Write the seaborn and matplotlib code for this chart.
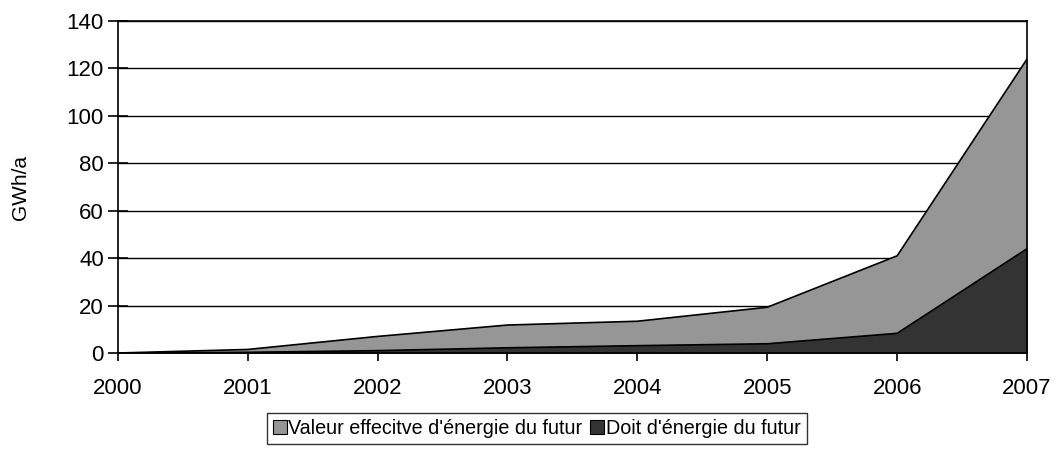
import matplotlib
matplotlib.use("Agg")
import matplotlib.pyplot as plt
import seaborn as sns
import pandas as pd
from matplotlib.patches import Patch

years = [2000, 2001, 2002, 2003, 2004, 2005, 2006, 2007]
valeur_effective = [0, 1.5, 7, 11.8, 13.4, 19.3, 41, 124]
doit = [0, 0.3, 1.0, 2.2, 3.1, 3.9, 8.3, 44]
labels = ["Valeur effecitve d'énergie du futur", "Doit d'énergie du futur"]

df = pd.DataFrame({"annee": years, "effective": valeur_effective, "doit": doit})

sns.set_style("white")
plt.rcParams["font.family"] = ["Liberation Sans", "DejaVu Sans"]
plt.rcParams["text.color"] = "black"
plt.rcParams["axes.labelcolor"] = "black"

fig = plt.figure(figsize=(10.61, 4.68), dpi=100)
ax = fig.add_axes([0.111, 0.2457, 0.857, 0.7093])

# areas (overlapping, not stacked)
ax.fill_between(df["annee"], 0, df["effective"], color="#969696", zorder=2)
ax.fill_between(df["annee"], 0, df["doit"], color="#333333", zorder=3)
sns.lineplot(data=df, x="annee", y="effective", color="black", lw=1.2, ax=ax, zorder=4)
sns.lineplot(data=df, x="annee", y="doit", color="black", lw=1.2, ax=ax, zorder=4)

ax.set_xlim(2000, 2007)
ax.set_ylim(0, 140)
ax.set_yticks(range(0, 141, 20))
ax.set_xticks(years)
ax.grid(axis="y", color="black", lw=1, zorder=1)
ax.grid(axis="x", visible=False)
ax.set_axisbelow(True)
for s in ax.spines.values():
    s.set_color("black")
    s.set_linewidth(1.2)
    s.set_zorder(5)

ax.tick_params(axis="y", direction="inout", length=14, width=1.2, labelsize=16, colors="black", pad=3, left=True)
ax.tick_params(axis="x", direction="out", length=6, width=1.2, labelsize=16, colors="black", pad=12, bottom=True)
ax.set_xlabel("")
ax.set_ylabel("GWh/a", fontsize=15, color="black")
ax.yaxis.set_label_coords(-0.096, 0.5)

handles = [Patch(facecolor="#969696", edgecolor="black", lw=0.8),
           Patch(facecolor="#333333", edgecolor="black", lw=0.8)]
leg = fig.legend(handles, labels, loc="center", bbox_to_anchor=(0.506, 0.0844), ncol=2,
                 fontsize=14.2, frameon=True, fancybox=False, handlelength=0.7, handleheight=0.7,
                 handletextpad=0.1, columnspacing=0.4, borderpad=0.3, borderaxespad=0,
                 labelcolor="black")
leg.get_frame().set_edgecolor("black")
leg.get_frame().set_linewidth(1.0)

fig.savefig("out.png", dpi=100)
